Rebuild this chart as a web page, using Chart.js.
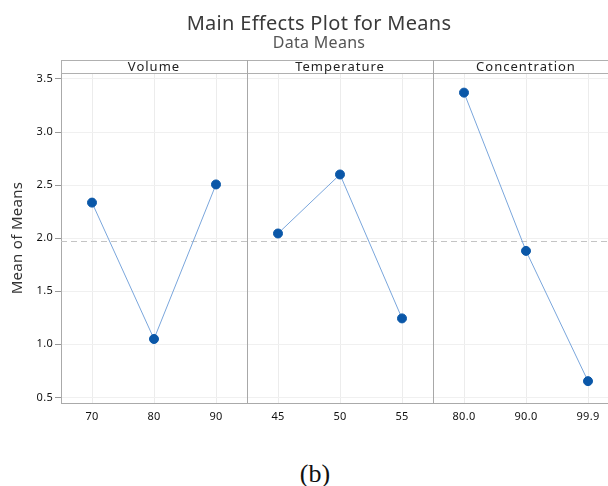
<!DOCTYPE html>
<html>
<head>
<meta charset="utf-8">
<script src="https://cdn.jsdelivr.net/npm/chart.js@4"></script>
<style>
  html, body { margin: 0; padding: 0; background: #fff; overflow: hidden; width: 608px; height: 486px; }
  #wrap { position: absolute; left: 0; top: 0; width: 638px; height: 440px; }
  #caption { position: absolute; left: 0; top: 459px; width: 630px; text-align: center;
             font-family: "Liberation Serif", "DejaVu Serif", serif; font-size: 26px; color: #111; }
</style>
</head>
<body>
<div id="wrap"><canvas id="myChart" width="638" height="440"></canvas></div>
<div id="caption">(b)</div>
<script>
// data
const panelNames = ['Volume', 'Temperature', 'Concentration'];
const volumeLevels = ['70', '80', '90'];
const volumeMeans = [2.335, 1.05, 2.506];
const temperatureLevels = ['45', '50', '55'];
const temperatureMeans = [2.044, 2.60, 1.244];
const concentrationLevels = ['80.0', '90.0', '99.9'];
const concentrationMeans = [3.371, 1.88, 0.653];
const yTicks = [0.5, 1.0, 1.5, 2.0, 2.5, 3.0, 3.5];
const grandMean = 1.97;

const allLevels = [...volumeLevels, ...temperatureLevels, ...concentrationLevels];
const xPositions = allLevels.map((l, i) => i + 0.5);

function toPoints(means, panel) {
    return means.map((v, i) => ({ x: panel * 3 + i + 0.5, y: v }));
}

const lineColor = '#7aa6dc';
const dotColor = '#0a57a8';

// plugin untuk header panel, garis pemisah dan garis rata-rata
const panelPlugin = {
    id: 'panelPlugin',
    beforeDraw(chart) {
        chart.ctx.letterSpacing = '0.3px';
    },
    beforeDatasetsDraw(chart) {
        const { ctx, chartArea, scales } = chart;
        const x = scales.x, y = scales.y;
        ctx.save();
        // garis rata-rata putus-putus
        const yMean = Math.round(y.getPixelForValue(grandMean)) + 0.5;
        ctx.strokeStyle = '#c4c4c4';
        ctx.lineWidth = 1;
        ctx.setLineDash([6, 4]);
        ctx.beginPath();
        ctx.moveTo(chartArea.left, yMean);
        ctx.lineTo(x.getPixelForValue(9), yMean);
        ctx.stroke();
        ctx.restore();
    },
    afterDraw(chart) {
        const { ctx, chartArea, scales } = chart;
        const x = scales.x;
        const top = chartArea.top - 13;
        const right = Math.round(x.getPixelForValue(9));
        ctx.save();
        ctx.strokeStyle = '#b0b0b0';
        ctx.lineWidth = 1;
        // kotak header
        ctx.beginPath();
        ctx.moveTo(chartArea.left, top + 0.5);
        ctx.lineTo(right, top + 0.5);
        ctx.moveTo(chartArea.left, chartArea.top + 0.5);
        ctx.lineTo(right, chartArea.top + 0.5);
        ctx.moveTo(chartArea.left + 0.5, top);
        ctx.lineTo(chartArea.left + 0.5, chartArea.top);
        ctx.moveTo(right - 0.5, top);
        ctx.lineTo(right - 0.5, chartArea.bottom);
        ctx.stroke();
        // pemisah panel
        ctx.strokeStyle = '#a8a8a8';
        ctx.beginPath();
        [3, 6].forEach(v => {
            const px = Math.round(x.getPixelForValue(v)) + 0.5;
            ctx.moveTo(px, top);
            ctx.lineTo(px, chartArea.bottom);
        });
        ctx.stroke();
        // nama panel
        ctx.fillStyle = '#222';
        ctx.font = '13px "Noto Sans"';
        ctx.letterSpacing = '1px';
        ctx.textAlign = 'center';
        ctx.textBaseline = 'middle';
        panelNames.forEach((name, i) => {
            ctx.fillText(name, x.getPixelForValue(i * 3 + 1.5), top + 7);
        });
        ctx.restore();
    }
};

const ctx = document.getElementById('myChart').getContext('2d');

new Chart(ctx, {
    type: 'line',
    data: {
        datasets: [volumeMeans, temperatureMeans, concentrationMeans].map((means, p) => ({
            label: panelNames[p],
            data: toPoints(means, p),
            borderColor: lineColor,
            borderWidth: 1,
            pointBackgroundColor: dotColor,
            pointBorderColor: dotColor,
            pointRadius: 4.5,
            tension: 0
        }))
    },
    options: {
        responsive: false,
        animation: false,
        layout: { padding: 0, autoPadding: false },
        plugins: {
            legend: { display: false },
            tooltip: { enabled: false },
            title: {
                display: true,
                text: 'Main Effects Plot for Means',
                color: '#3a3a3a',
                font: { family: 'Noto Sans', size: 20, weight: 'normal', lineHeight: 1 },
                padding: { top: 14.7, bottom: 0 }
            },
            subtitle: {
                display: true,
                text: 'Data Means',
                color: '#555',
                font: { family: 'Noto Sans', size: 16, lineHeight: 1 },
                padding: { top: 0.3, bottom: 22 }
            }
        },
        scales: {
            x: {
                type: 'linear',
                min: 0,
                max: 9 + 19 / 62,
                afterBuildTicks(scale) {
                    scale.ticks = xPositions.map(v => ({ value: v }));
                },
                afterFit(scale) { scale.height = 37; },
                ticks: {
                    color: '#111',
                    font: { family: 'Noto Sans', size: 11 },
                    padding: 7,
                    maxRotation: 0,
                    autoSkip: false,
                    callback: value => allLevels[Math.floor(value)]
                },
                grid: { color: '#ececec', drawTicks: false },
                border: { color: '#aaa' }
            },
            y: {
                min: 0.447,
                max: 3.556,
                afterBuildTicks(scale) {
                    scale.ticks = yTicks.map(v => ({ value: v }));
                },
                afterFit(scale) { scale.width = 61; },
                ticks: {
                    color: '#111',
                    font: { family: 'Noto Sans', size: 11 },
                    padding: 2,
                    callback: value => value.toFixed(1)
                },
                grid: { color: '#f0f0f0', tickLength: 6, tickColor: '#999' },
                border: { color: '#aaa' },
                title: {
                    display: true,
                    text: 'Mean of Means',
                    color: '#333',
                    font: { family: 'Noto Sans', size: 15 },
                    padding: { top: 9, bottom: 0 }
                }
            }
        }
    },
    plugins: [panelPlugin]
});
</script>
</body>
</html>
